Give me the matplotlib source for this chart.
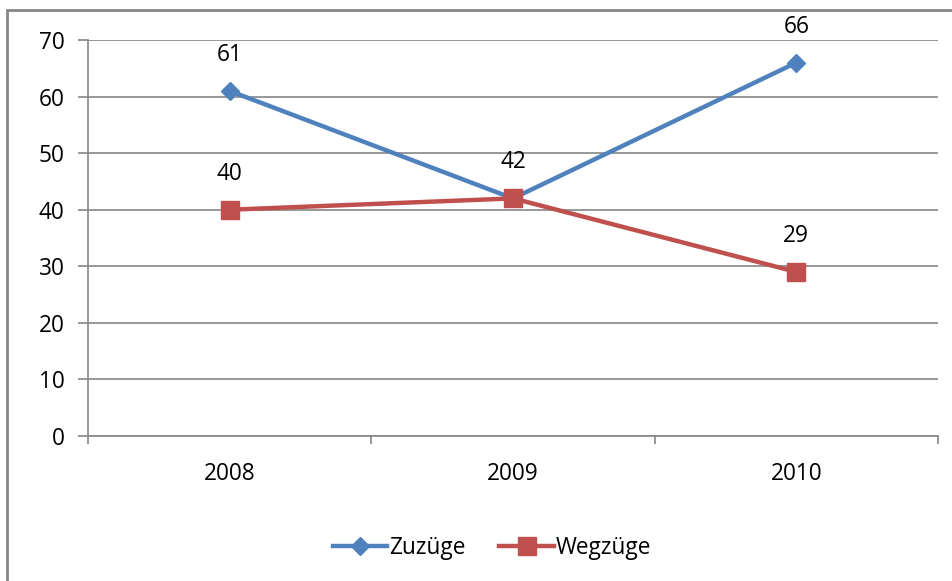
import matplotlib
matplotlib.use("Agg")
import matplotlib.pyplot as plt
from matplotlib.patches import Rectangle

years = ["2008", "2009", "2010"]
zuzuege = [61, 42, 66]
wegzuege = [40, 42, 29]
series_names = ["Zuzüge", "Wegzüge"]

plt.rcParams['font.family'] = ['Open Sans', 'DejaVu Sans']

W, H = 953, 581
fig = plt.figure(figsize=(W/100, H/100), dpi=100)
ax = fig.add_axes([88/W, 1-436/H, (938-88)/W, (436-40)/H])

blue = "#4F81BD"
red = "#C0504D"
x = list(range(len(years)))
ax.plot(x, zuzuege, color=blue, lw=3.2, marker="D", ms=9, label=series_names[0], zorder=3)
ax.plot(x, wegzuege, color=red, lw=3.2, marker="s", ms=13, label=series_names[1], zorder=4)

FS = 16.3
for xi, v in zip(x, zuzuege):
    ax.annotate(str(v), (xi, v), xytext=(0, 26), textcoords="offset points",
                ha="center", va="center", fontsize=FS)
for xi, v, z in zip(x, wegzuege, zuzuege):
    if v == z:
        continue
    ax.annotate(str(v), (xi, v), xytext=(0, 26), textcoords="offset points",
                ha="center", va="center", fontsize=FS)

ax.set_xlim(-0.5, 2.5)
ax.set_ylim(0, 70)
ax.set_yticks(range(0, 71, 10))
ax.set_xticks(x)
ax.set_xticklabels(years, fontsize=FS)
ax.set_xticks([-0.5, 0.5, 1.5, 2.5], minor=True)
ax.tick_params(axis="x", which="major", length=0, pad=19)
ax.tick_params(axis="x", which="minor", length=6, color="#868686", width=1.2)
ax.tick_params(axis="y", length=7, color="#868686", width=1.2, labelsize=FS, pad=10)
ax.grid(axis="y", color="#868686", lw=1.2)
ax.set_axisbelow(True)
for s in ["top", "right"]:
    ax.spines[s].set_visible(False)
for s in ["left", "bottom"]:
    ax.spines[s].set_color("#868686")
    ax.spines[s].set_linewidth(1.2)

fig.legend(loc="center", bbox_to_anchor=(492/W, 1-548/H), ncol=2, frameon=False,
           fontsize=FS, handlelength=2.4, handletextpad=0.1, columnspacing=1.5)

fig.patches.append(Rectangle((7/W, -0.05), 1.0, 1-10/H+0.05, transform=fig.transFigure,
                             fill=False, edgecolor="#868686", lw=2))

fig.savefig("out.png", dpi=100)
